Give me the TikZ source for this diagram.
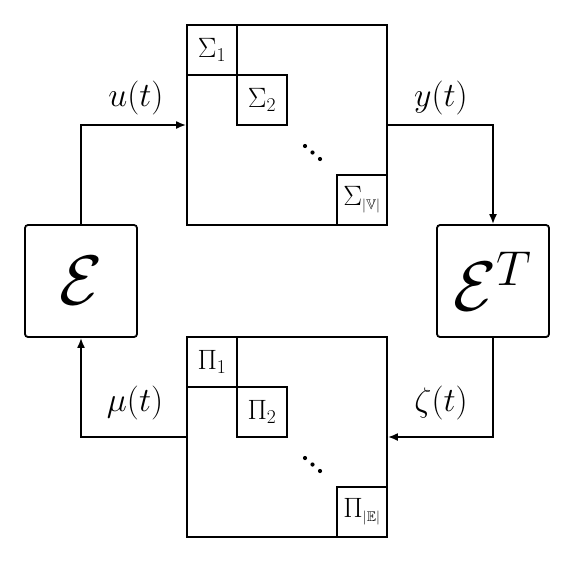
\RequirePackage{fix-cm}
\documentclass[tikz,border=0pt]{standalone}
\usepackage{amsmath,amssymb}
\usetikzlibrary{arrows.meta}
\begin{document}
\begin{tikzpicture}[x=1pt,y=-1pt,
  line width=1.8pt,
  big/.style={draw, minimum size=200pt, inner sep=0pt},
  blk/.style={draw, minimum size=50pt, inner sep=0pt, font=\fontsize{28}{32}\selectfont},
  op/.style={draw, rounded corners=3pt, minimum width=112pt, minimum height=112pt, inner sep=0pt, font=\fontsize{70}{76}\selectfont},
  sig/.style={inner sep=0pt, font=\fontsize{34}{38}\selectfont},
  dot/.style={fill=black, draw=none},
  arr/.style={-{Latex[length=10pt,width=8pt]}}]
\useasboundingbox (0,0) rectangle (578,563);
% plant block diagonal
\node[big] (sys) at (287,125) {};
\node[blk] (s1) at (212,50) {$\Sigma_1$};
\node[blk] (s2) at (262,100) {$\Sigma_2$};
\node[blk] (sv) at (362,200) {$\Sigma_{\scriptscriptstyle|\mathbb{V}|}$};
\fill[dot] (305,146) circle (2.1pt) (312.5,152.5) circle (2.1pt) (320,159) circle (2.1pt);
% edge block diagonal
\node[big] (pi) at (287,437) {};
\node[blk] (p1) at (212,362) {$\Pi_1$};
\node[blk] (p2) at (262,412) {$\Pi_2$};
\node[blk] (pe) at (362,512) {$\Pi_{\scriptscriptstyle|\mathbb{E}|}$};
\fill[dot] (305,458) circle (2.1pt) (312.5,464.5) circle (2.1pt) (320,471) circle (2.1pt);
% incidence operators
\node[op] (E) at (81,281) {$\mathcal{E}$};
\node[op] (ET) at (493,281) {$\mathcal{E}^T$};
% connectors
\draw[arr] (E.north) |- (sys.west);
\draw[arr] (sys.east) -| (ET.north);
\draw[arr] (ET.south) |- (pi.east);
\draw[arr] (pi.west) -| (E.south);
% signal labels
\node[sig] (lu) at (136,98) {$u(t)$};
\node[sig] (ly) at (441,98) {$y(t)$};
\node[sig] (lmu) at (135,403) {$\mu(t)$};
\node[sig] (lz) at (441,403) {$\zeta(t)$};
\end{tikzpicture}
\end{document}
